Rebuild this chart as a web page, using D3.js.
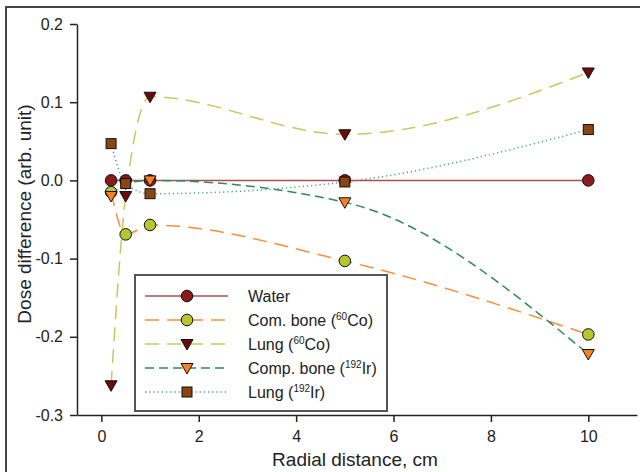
<!DOCTYPE html>
<html><head><meta charset="utf-8">
<script src="https://cdn.jsdelivr.net/npm/d3@7"></script>
<style>body{margin:0;background:#fff}svg{display:block;font-family:Arial,"Liberation Sans",sans-serif}</style>
</head><body><svg id="c" width="640" height="472"></svg>
<script>
const xs = [0.2, 0.5, 1, 5, 10];
const water = [0, 0, 0, 0, 0];
const comBoneCo = [-0.015, -0.069, -0.057, -0.103, -0.197];
const lungCo = [-0.262, -0.02, 0.107, 0.059, 0.138];
const compBoneIr = [-0.02, -0.004, 0.0, -0.028, -0.222];
const lungIr = [0.047, -0.004, -0.017, -0.002, 0.065];
const xTicks = [0, 2, 4, 6, 8, 10];
const yTicks = [-0.3, -0.2, -0.1, 0.0, 0.1, 0.2];

const series = [
  {name:"Water", sup:null, tail:"", vals:water, line:"#a85050", dash:null, marker:"circle", fill:"#8b1a1a", w:1.5},
  {name:"Com. bone (", sup:"60", tail:"Co)", vals:comBoneCo, line:"#ff8c3a", dash:"14,8", marker:"circle", fill:"#b5c72e", w:1.5},
  {name:"Lung (", sup:"60", tail:"Co)", vals:lungCo, line:"#c8c860", dash:"14,8", marker:"tri", fill:"#6e0a0a", w:1.5},
  {name:"Comp. bone (", sup:"192", tail:"Ir)", vals:compBoneIr, line:"#2e8b57", dash:"9,5", marker:"tri", fill:"#ff8020", w:1.5},
  {name:"Lung (", sup:"192", tail:"Ir)", vals:lungIr, line:"#4a9a9a", dash:"1.2,3", marker:"square", fill:"#8b4513", w:1.5}
];

const svg = d3.select("#c");
svg.append("rect").attr("x",6).attr("y",7).attr("width",640).attr("height",470)
  .attr("fill","none").attr("stroke","#444").attr("stroke-width",2);

const x = d3.scaleLinear().domain([-0.5, 11]).range([77, 637]);
const y = d3.scaleLinear().domain([-0.3, 0.2]).range([415, 24]);

const xAxis = svg.append("g").attr("transform","translate(0,415)")
  .call(d3.axisBottom(x).tickValues(xTicks).tickSize(7).tickSizeOuter(0).tickFormat(d3.format("d")));
const yAxis = svg.append("g").attr("transform","translate(77,0)")
  .call(d3.axisLeft(y).tickValues(yTicks).tickSize(7).tickSizeOuter(0).tickFormat(d=>d3.format(".1f")(d).replace("\u2212","-")));
[xAxis,yAxis].forEach(a=>{
  a.attr("font-size",16).attr("font-family","Arial, Liberation Sans, sans-serif");
  a.select(".domain").attr("stroke","#222").attr("stroke-width",1.5);
  a.selectAll(".tick line").attr("stroke","#222").attr("stroke-width",1.5);
  a.selectAll(".tick text").style("font-size","16px").attr("fill","#222");
});
xAxis.selectAll(".tick text").attr("dy","1.05em");
yAxis.selectAll(".tick text").attr("dx","-0.25em");

svg.append("text").attr("x",355).attr("y",466).attr("text-anchor","middle")
  .style("font-size","19px").attr("fill","#222").text("Radial distance, cm");
svg.append("text").attr("transform","translate(31,214) rotate(-90)").attr("text-anchor","middle")
  .style("font-size","19px").attr("fill","#222").text("Dose difference (arb. unit)");

const line = d3.line().x(d=>x(d[0])).y(d=>y(d[1])).curve(d3.curveMonotoneX);

function drawMarker(g, type, cx, cy, fill){
  if(type==="circle") g.append("circle").attr("cx",cx).attr("cy",cy).attr("r",5.8)
    .attr("fill",fill).attr("stroke","#111").attr("stroke-width",1);
  else if(type==="tri") g.append("path").attr("d",`M${cx-6},${cy-4.5} L${cx+6},${cy-4.5} L${cx},${cy+6} Z`)
    .attr("fill",fill).attr("stroke","#111").attr("stroke-width",1);
  else g.append("rect").attr("x",cx-5).attr("y",cy-5).attr("width",10).attr("height",10)
    .attr("fill",fill).attr("stroke","#111").attr("stroke-width",1);
}

const plot = svg.append("g");
series.forEach(s=>{
  const pts = xs.map((v,i)=>[v,s.vals[i]]);
  plot.append("path").attr("d",line(pts)).attr("fill","none").attr("stroke",s.line)
    .attr("stroke-width",s.w).attr("stroke-dasharray",s.dash);
});
series.forEach(s=>{
  const g = plot.append("g");
  xs.forEach((v,i)=>drawMarker(g, s.marker, x(v), y(s.vals[i]), s.fill));
});

// legend
const lg = svg.append("g");
lg.append("rect").attr("x",135).attr("y",275).attr("width",252).attr("height",136)
  .attr("fill","#fff").attr("stroke","#555").attr("stroke-width",2);
series.forEach((s,i)=>{
  const yy = 296 + i*24;
  lg.append("line").attr("x1",145).attr("x2",228).attr("y1",yy).attr("y2",yy)
    .attr("stroke",s.line).attr("stroke-width",s.w).attr("stroke-dasharray",s.dash);
  drawMarker(lg, s.marker, 187, yy, s.fill);
  const t = lg.append("text").attr("x",248).attr("y",yy+6).style("font-size","16px").attr("fill","#222");
  t.append("tspan").text(s.name);
  if(s.sup){
    t.append("tspan").style("font-size","10px").attr("dy",-6).text(s.sup);
    t.append("tspan").attr("dy",6).text(s.tail);
  }
});
</script></body></html>
